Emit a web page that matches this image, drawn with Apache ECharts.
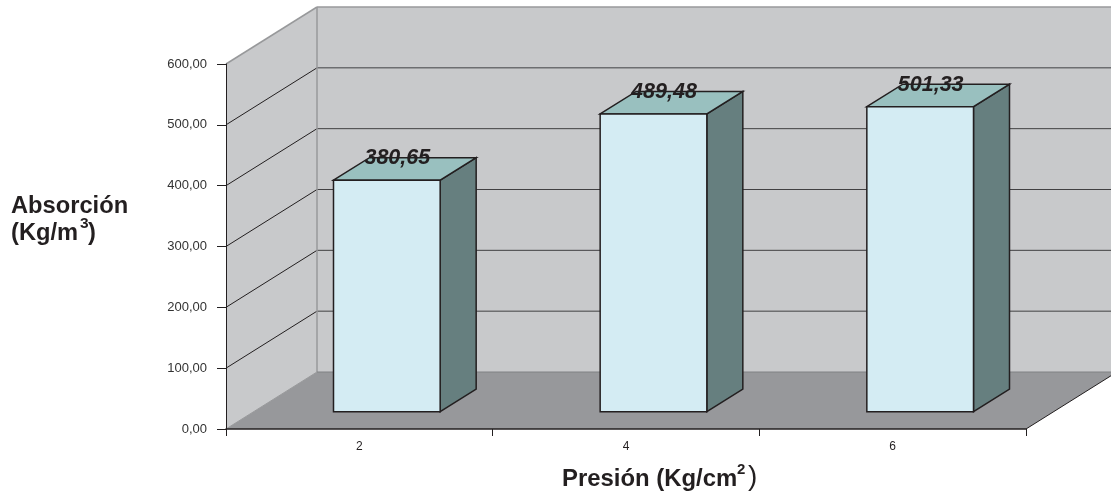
<!DOCTYPE html>
<html>
<head>
<meta charset="utf-8">
<style>
  html, body { margin: 0; padding: 0; background: #fff; }
  #chart { width: 1111px; height: 497px; }
</style>
<script src="https://cdn.jsdelivr.net/npm/echarts@6/dist/echarts.min.js"></script>
</head>
<body>
<div id="chart"></div>
<script>
// Absorption measured at each pressure
const pressures = ['2', '4', '6'];
const absorption = [380.65, 489.48, 501.33];
const yTicks = [0, 100, 200, 300, 400, 500, 600];

// Oblique projection used for the pseudo-3D box
const WALL_DX = 91, WALL_DY = -57;
const BAR_SHIFT = 27.5, BAR_LIFT = -17.3;
const BAR_DX = 36, BAR_DY = -22.5;
const BAR_RATIO = 0.4;

const FONT = '"Liberation Sans", Arial, sans-serif';
const INK = '#231f20';
const comma = v => v.toFixed(2).replace('.', ',');

function poly(points, fill, stroke, width) {
  return {
    type: 'polygon',
    shape: { points },
    style: { fill, stroke: stroke || 'none', lineWidth: width || 0, lineJoin: 'miter' }
  };
}
function seg(x1, y1, x2, y2, stroke, width) {
  return {
    type: 'line',
    shape: { x1, y1, x2, y2 },
    style: { stroke, lineWidth: width }
  };
}

// Side wall, back wall, floor and their gridlines
function renderRoom(params, api) {
  const cs = params.coordSys;
  const left = cs.x, right = cs.x + cs.width;
  const y0 = api.coord([0, yTicks[0]])[1];
  const yMax = api.coord([0, yTicks[yTicks.length - 1]])[1];
  const bl = left + WALL_DX, br = right + WALL_DX;
  const kids = [
    poly([[left, y0], [left, yMax], [bl, yMax + WALL_DY], [bl, y0 + WALL_DY]], '#c8c9cb'),
    poly([[bl, y0 + WALL_DY], [bl, yMax + WALL_DY], [br, yMax + WALL_DY], [br, y0 + WALL_DY]], '#c8c9cb'),
    poly([[left, y0], [bl, y0 + WALL_DY], [br, y0 + WALL_DY], [right, y0]], '#97989b')
  ];
  yTicks.slice(1, -1).forEach(t => {
    const y = api.coord([0, t])[1];
    kids.push(seg(left, y, bl, y + WALL_DY, INK, 1));
    kids.push(seg(bl, y + WALL_DY, br, y + WALL_DY, t === 500 ? '#6d6e71' : '#414042', t === 500 ? 1.5 : 1));
  });
  const edge = '#98999b';
  kids.push(seg(left, yMax, bl, yMax + WALL_DY, edge, 1.5));
  kids.push(seg(bl, yMax + WALL_DY, br, yMax + WALL_DY, edge, 1.5));
  kids.push(seg(bl, yMax + WALL_DY, bl, y0 + WALL_DY, edge, 1.5));
  kids.push(seg(left, y0, bl, y0 + WALL_DY, edge, 1));
  kids.push(seg(bl, y0 + WALL_DY, br, y0 + WALL_DY, '#808184', 1));
  kids.push(seg(right, y0, br, y0 + WALL_DY, INK, 1));
  return { type: 'group', children: kids };
}

// One box per category, with its value resting on the rear top edge
function renderBar(params, api) {
  const idx = api.value(0);
  const val = api.value(1);
  const w = api.size([1, 0])[0] * BAR_RATIO;
  const c = api.coord([idx, val]);
  const base = api.coord([idx, 0]);
  const x1 = c[0] + BAR_SHIFT - w / 2, x2 = x1 + w;
  const top = c[1] + BAR_LIFT, bot = base[1] + BAR_LIFT;
  const line = '#231f20';
  return {
    type: 'group',
    children: [
      poly([[x2, top], [x2 + BAR_DX, top + BAR_DY], [x2 + BAR_DX, bot + BAR_DY], [x2, bot]], '#667f7f', line, 1.5),
      poly([[x1, top], [x1 + BAR_DX, top + BAR_DY], [x2 + BAR_DX, top + BAR_DY], [x2, top]], '#99c0bf', line, 1.5),
      poly([[x1, top], [x2, top], [x2, bot], [x1, bot]], '#d4ecf3', line, 1.5),
      {
        type: 'text',
        style: {
          x: (x1 + x2) / 2 + 10.5,
          y: top + BAR_DY + 0.5,
          text: comma(val),
          font: 'italic bold 21.5px ' + FONT,
          fill: INK,
          align: 'center',
          verticalAlign: 'middle'
        }
      }
    ]
  };
}

function titleText(x, y, text, size, weight) {
  return {
    type: 'text',
    left: x,
    top: y,
    silent: true,
    style: { text, font: (weight || 'bold') + ' ' + size + 'px ' + FONT, fill: INK }
  };
}

const chart = echarts.init(document.getElementById('chart'), null, { renderer: 'canvas' });
chart.setOption({
  animation: false,
  backgroundColor: '#ffffff',
  grid: { left: 226, right: 85, top: 64, bottom: 68 },
  xAxis: {
    type: 'category',
    data: pressures,
    z: 5,
    axisLine: { lineStyle: { color: INK, width: 1.5 } },
    axisTick: { show: true, length: 7, alignWithLabel: false, lineStyle: { color: INK, width: 1 } },
    axisLabel: { color: INK, fontFamily: FONT, fontSize: 12, margin: 12 },
    splitLine: { show: false }
  },
  yAxis: {
    type: 'value',
    min: 0,
    max: 600,
    interval: 100,
    z: 5,
    axisLine: { show: true, lineStyle: { color: INK, width: 1 } },
    axisTick: { show: true, length: 9, lineStyle: { color: INK, width: 1 } },
    axisLabel: { color: '#333333', fontFamily: FONT, fontSize: 13, margin: 19, formatter: comma },
    splitLine: { show: false }
  },
  series: [
    { type: 'custom', coordinateSystem: 'cartesian2d', silent: true, z: 1, clip: false, renderItem: renderRoom, data: [[0, 0]] },
    {
      type: 'custom',
      coordinateSystem: 'cartesian2d',
      silent: true,
      z: 2,
      clip: false,
      renderItem: renderBar,
      encode: { x: 0, y: 1 },
      data: absorption.map((v, i) => [i, v])
    }
  ],
  graphic: [
    titleText(11, 194, 'Absorción', 23.7),
    titleText(11, 221, '(Kg/m', 23.7),
    titleText(80, 216, '3', 15.5),
    titleText(88, 221, ')', 23.7),
    titleText(562, 467, 'Presión (Kg/cm', 23.9),
    titleText(737, 462, '2', 15),
    titleText(748, 463, ')', 28, 'normal')
  ]
});
</script>
</body>
</html>
